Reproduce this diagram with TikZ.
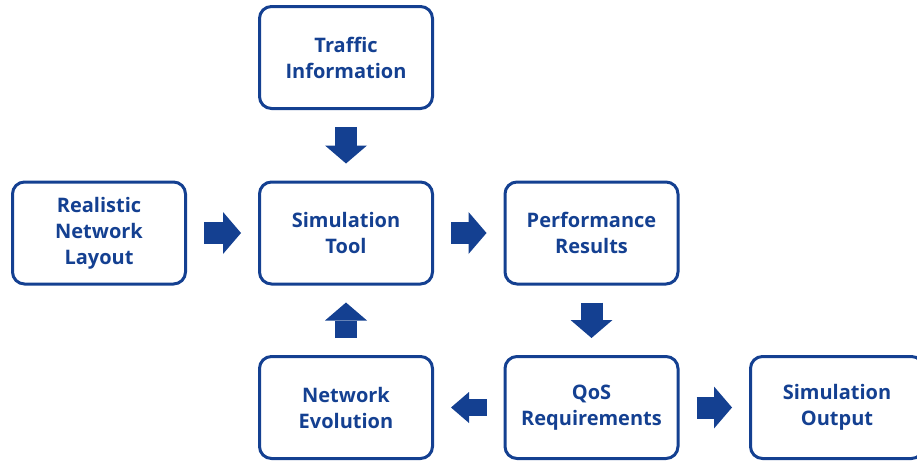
\documentclass[tikz,border=0pt]{standalone}
\usepackage{fontspec}
\setmainfont{Open Sans}
\usetikzlibrary{arrows.meta}
\definecolor{nblue}{RGB}{20,64,145}

\tikzset{
	box/.style={draw=nblue, line width=3pt, rounded corners=12pt, minimum width=173pt, minimum height=102pt, inner sep=0pt, align=center, text=nblue, font=\fontsize{20}{26}\selectfont\bfseries},
	flow/.style={draw=nblue, line width=22pt, -{Triangle[length=18pt,width=42pt,line width=0pt]}, shorten <=17pt, shorten >=17pt},
	smallflow/.style={flow, line width=17pt, -{Triangle[length=18pt,width=31pt,line width=0pt]}}
}

\begin{document}
\begin{tikzpicture}[x=1pt,y=-1pt]
			\useasboundingbox (0,0) rectangle (917,463);
			\clip (0,0) rectangle (917,463);
			\node[box] (traffic) at (346,57.5) {Traffic\\Information};
			\node[box] (layout) at (99,233) {Realistic\\Network\\Layout};
			\node[box] (tool) at (346,233) {Simulation\\Tool};
			\node[box] (results) at (591.5,233) {Performance\\Results};
			\node[box] (evolution) at (346,407.5) {Network\\Evolution};
			\node[box] (qos) at (591.5,407.5) {QoS\\Requirements};
			\node[box] (output) at (837,407.5) {Simulation\\Output};
			\draw[flow] (traffic) -- (tool);
			\draw[flow] (layout) -- (tool);
			\draw[flow] (tool) -- (results);
			\draw[flow] (results) -- (qos);
			\draw[flow] (qos) -- (output);
			\draw[smallflow] (qos) -- (evolution);
			\draw[flow] (evolution) -- (tool);
		\end{tikzpicture}
\end{document}
